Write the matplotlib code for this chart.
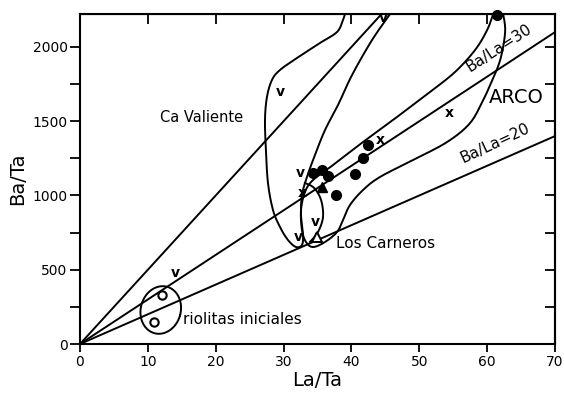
import numpy as np
import matplotlib
matplotlib.use("Agg")
import matplotlib.pyplot as plt
from matplotlib.ticker import MultipleLocator

# ---------------- data ----------------
ratio_lines = [50, 30, 20]

# contours (data coordinates, La/Ta, Ba/Ta)
cav_x = [39.06, 38.76, 37.88, 35.37, 31.98, 29.47, 28.29, 27.55, 27.26, 27.40, 27.70, 28.44,
         29.47, 30.65, 31.83, 32.71, 32.86, 32.57, 32.71, 33.45, 34.63, 36.11, 38.02, 40.09,
         43.04, 45.70]
cav_y = [2222, 2182, 2101, 2027, 1926, 1845, 1778, 1663, 1508, 1306, 1084, 902,
         788, 700, 653, 667, 734, 869, 1003, 1125, 1273, 1441, 1609, 1811,
         2047, 2222]

arco_x = [60.88, 60.0, 58.23, 55.28, 51.59, 46.73, 41.71, 37.29, 34.34, 33.16, 32.57, 32.71,
          33.30, 34.34, 36.11, 37.88, 38.76, 39.79, 41.71, 44.22, 49.09, 54.10, 57.49, 59.41,
          60.44, 61.92, 62.65, 62.36]
arco_y = [2222, 2114, 1980, 1832, 1697, 1529, 1360, 1205, 1104, 1024, 902, 768,
          687, 653, 687, 754, 835, 936, 1037, 1125, 1239, 1360, 1488, 1643,
          1744, 1912, 2101, 2222]

carn_x = [33.16, 34.49, 35.52, 35.81, 35.07, 33.89]
carn_y = [1084, 1051, 970, 855, 754, 687]

# riolitas iniciales ellipse (center, half axes in data units, tilt deg)
riol_center = (11.9, 229)
riol_half = (2.95, 162)
riol_tilt = -15

# samples
arco_fill_x = [42.45, 41.7, 40.5, 37.7, 34.4, 35.7, 36.6, 61.5]
arco_fill_y = [1340, 1253, 1145, 1003, 1152, 1172, 1131, 2215]
tri_fill_x = [35.7]
tri_fill_y = [1057]
tri_open_x = [34.95]
tri_open_y = [720]
riol_open_x = [12.1, 10.9]
riol_open_y = [330, 150]
v_x = [29.5, 44.7, 32.4, 34.6, 32.1, 13.98]
v_y = [1697, 2195, 1152, 822, 720, 478]
x_x = [32.7, 44.2, 54.4]
x_y = [1017, 1374, 1556]

# ---------------- helpers ----------------
def catmull(xs, ys, n=12):
    p = np.column_stack([xs, ys]).astype(float)
    p = np.vstack([p[0], p, p[-1]])
    out = []
    for i in range(1, len(p) - 2):
        p0, p1, p2, p3 = p[i - 1], p[i], p[i + 1], p[i + 2]
        t = np.linspace(0, 1, n, endpoint=False)[:, None]
        seg = 0.5 * ((2 * p1) + (-p0 + p2) * t + (2 * p0 - 5 * p1 + 4 * p2 - p3) * t ** 2
                     + (-p0 + 3 * p1 - 3 * p2 + p3) * t ** 3)
        out.append(seg)
    out.append(p[-2][None, :])
    a = np.vstack(out)
    return a[:, 0], a[:, 1]

fig = plt.figure(figsize=(5.64, 3.96), dpi=100)
ax = fig.add_axes([80 / 564, 52 / 396, 475 / 564, 330 / 396])
XMAX, YMAX = 70, 2222
ax.set_xlim(0, XMAX)
ax.set_ylim(0, YMAX)

lw = 1.4
# ratio lines
for r in ratio_lines:
    xs = np.array([0, XMAX])
    ax.plot(xs, r * xs, color="black", lw=lw, clip_on=True)

# contours
for cx, cy in [(cav_x, cav_y), (arco_x, arco_y), (carn_x, carn_y)]:
    sx, sy = catmull(cx, cy)
    ax.plot(sx, sy, color="black", lw=lw)

# ellipse in pixel space, converted to data
pxx = 475 / XMAX
pxy = 330 / YMAX
t = np.linspace(0, 2 * np.pi, 200)
a_px = riol_half[0] * pxx
b_px = riol_half[1] * pxy
th = np.radians(riol_tilt)
ex = a_px * np.cos(t) * np.cos(th) - b_px * np.sin(t) * np.sin(th)
ey = a_px * np.cos(t) * np.sin(th) + b_px * np.sin(t) * np.cos(th)
ax.plot(riol_center[0] + ex / pxx, riol_center[1] + ey / pxy, color="black", lw=lw)

# points
ax.plot(arco_fill_x, arco_fill_y, "o", color="black", ms=7, clip_on=False)
ax.plot(tri_fill_x, tri_fill_y, "^", color="black", ms=7)
ax.plot(tri_open_x, tri_open_y, "^", mfc="white", mec="black", mew=1.4, ms=7)
ax.plot(riol_open_x, riol_open_y, "o", mfc="white", mec="black", mew=1.5, ms=6)
for xv, yv in zip(v_x, v_y):
    ax.text(xv, yv, "v", ha="center", va="center", fontsize=10, fontweight="bold")
for xv, yv in zip(x_x, x_y):
    ax.text(xv, yv, "x", ha="center", va="center", fontsize=10, fontweight="bold")

# labels
ax.text(11.8, 1522, "Ca Valiente", fontsize=10.5, ha="left", va="center")
ax.text(60.2, 1663, "ARCO", fontsize=14, ha="left", va="center")
ax.text(61.8, 1993, "Ba/La=30", fontsize=11, ha="center", va="center", rotation=33)
ax.text(61.2, 1354, "Ba/La=20", fontsize=11, ha="center", va="center", rotation=25)
ax.text(37.7, 680, "Los Carneros", fontsize=11, ha="left", va="center")
ax.text(15.2, 162, "riolitas iniciales", fontsize=11, ha="left", va="center")

ax.set_xlabel("La/Ta", fontsize=14, labelpad=1)
ax.set_ylabel("Ba/Ta", fontsize=14, labelpad=4)

ax.xaxis.set_major_locator(MultipleLocator(10))
ax.yaxis.set_major_locator(MultipleLocator(500))
ax.yaxis.set_minor_locator(MultipleLocator(250))
ax.tick_params(axis="both", which="both", labelsize=10, width=1.3, colors="black")
ax.tick_params(axis="x", which="major", direction="out", length=6, pad=2)
ax.tick_params(axis="y", which="both", direction="out", length=7, pad=2)
for sp in ax.spines.values():
    sp.set_linewidth(1.5)

# inward ticks on right and top
ax_r = ax.secondary_yaxis("right")
ax_r.yaxis.set_major_locator(MultipleLocator(250))
ax_r.tick_params(direction="in", length=7, width=1.3, labelright=False)
ax_r.spines["right"].set_linewidth(1.5)
ax_t = ax.secondary_xaxis("top")
ax_t.xaxis.set_major_locator(MultipleLocator(10))
ax_t.tick_params(direction="in", length=7, width=1.3, labeltop=False)
ax.tick_params(right=False, top=False, which="both")

fig.savefig("out.png", dpi=100)
